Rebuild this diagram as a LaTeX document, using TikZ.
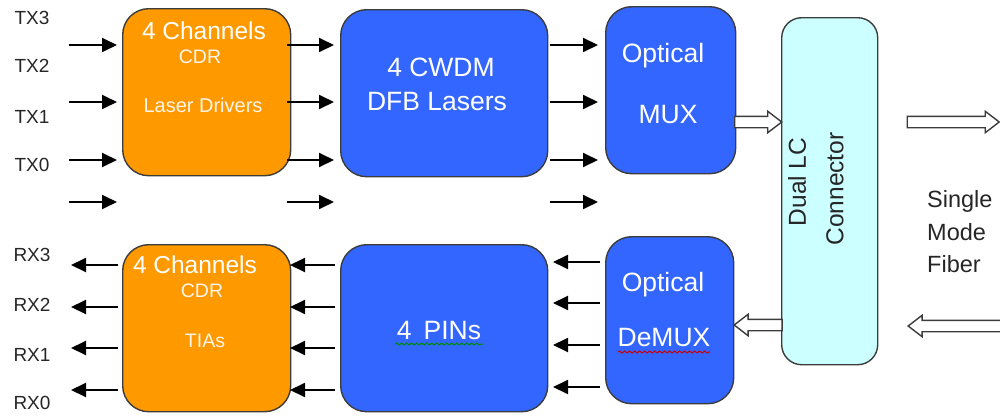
\documentclass[tikz,border=0pt]{standalone}
\usepackage{fontspec}
\setmainfont{Liberation Sans}
\usetikzlibrary{arrows.meta,shapes.arrows,decorations.pathmorphing}
\definecolor{orangebox}{HTML}{FF9900}
\definecolor{bluebox}{HTML}{3366FF}
\definecolor{cyanbox}{HTML}{CCFFFF}
\definecolor{edgegrey}{HTML}{3C3C3C}
\definecolor{labelink}{HTML}{262626}
\tikzset{
  x=1pt,y=-1pt,
  blockbox/.style={draw=edgegrey,line width=1.4pt,rounded corners=26pt,anchor=north west,inner sep=0pt},
  orangeblock/.style={blockbox,fill=orangebox,minimum width=168pt,minimum height=167pt},
  blueblock/.style={blockbox,fill=bluebox},
  signal/.style={-{Triangle[length=15pt,width=14pt]},line width=1.9pt,black},
  pinlabel/.style={font=\fontsize{19}{22}\selectfont,text=labelink,inner sep=0pt},
  whitebig/.style={font=\fontsize{26.5}{30}\selectfont,text=white,inner sep=0pt},
  whitesmall/.style={font=\fontsize{19.5}{22}\selectfont,text=white!92!orange,inner sep=0pt},
  blacklabel/.style={font=\fontsize{24.5}{28}\selectfont,text=labelink,inner sep=0pt},
  hollow/.style={single arrow,draw=edgegrey,fill=white,line width=1.4pt,inner sep=0pt,inner ysep=5pt,
    single arrow head extend=5pt,minimum height=#1,minimum width=21pt,single arrow tip angle=75},
  squiggle/.style={decorate,decoration={snake,amplitude=1pt,segment length=5pt},line width=1pt}
}
\begin{document}
\begin{tikzpicture}
\useasboundingbox (0,0) rectangle (1000,415);
% blocks
\node[orangeblock] (txcdr) at (122,8) {};
\node[orangeblock] (rxcdr) at (122,244) {};
\node[blueblock,minimum width=207pt,minimum height=167pt] (lasers) at (340,9) {};
\node[blueblock,minimum width=207pt,minimum height=167pt] (pins) at (340,244) {};
\node[blueblock,minimum width=130pt,minimum height=167pt] (mux) at (605,6) {};
\node[blueblock,minimum width=128pt,minimum height=167pt] (demux) at (605,236) {};
\node[blockbox,fill=cyanbox,rounded corners=20pt,minimum width=96pt,minimum height=347pt] (conn) at (781,17) {};
% block texts
\node[whitebig,font=\fontsize{24.5}{28}\selectfont] (t1) at (204,31) {4 Channels};
\node[whitesmall] (t2) at (200,57) {CDR};
\node[whitesmall,font=\fontsize{20}{23}\selectfont] (t3) at (203,105) {Laser Drivers};
\node[whitebig,font=\fontsize{24.5}{28}\selectfont] (t4) at (195,265) {4 Channels};
\node[whitesmall] (t5) at (202,291) {CDR};
\node[whitesmall] (t6) at (205,341) {TIAs};
\node[whitebig] (t7) at (441,67) {4 CWDM};
\node[whitebig] (t8) at (437,102) {DFB Lasers};
\node[whitebig] (t9) at (663,56) {Optical};
\node[whitebig] (t10) at (668,115) {MUX};
\node[whitebig] (t11) at (439,331) {4\hspace{12pt}PINs};
\node[whitebig] (t12) at (663,285) {Optical};
\node[whitebig] (t13) at (664,338) {DeMUX};
\draw[squiggle,draw=green!55!black] (395,344) -- (483,344);
\draw[squiggle,draw=red!80!black] (618,352) -- (710,352);
% connector text
\node[blacklabel,rotate=90] (dual) at (797,182) {Dual LC};
\node[blacklabel,rotate=90] (connector) at (835,189) {Connector};
% fibre text
\node[blacklabel,anchor=west,font=\fontsize{23.5}{27}\selectfont] (single) at (927,201) {Single};
\node[blacklabel,anchor=west,font=\fontsize{23.5}{27}\selectfont] (modet) at (927,232) {Mode};
\node[blacklabel,anchor=west,font=\fontsize{23.5}{27}\selectfont] (fiber) at (927,264) {Fiber};
% pin labels
\foreach \n/\lab/\py in {a/TX3/18,b/TX2/66,c/TX1/117,d/TX0/165,e/RX3/255,f/RX2/305,g/RX1/355,h/RX0/403}
  \node[pinlabel] (pin\n) at (32,\py) {\lab};
% transmit signals
\foreach \i/\py in {1/45,2/102,3/160,4/202}{
  \coordinate (ta\i) at (69,\py);  \coordinate (tb\i) at (117,\py);
  \coordinate (tc\i) at (287,\py); \coordinate (td\i) at (334,\py);
  \coordinate (te\i) at (550,\py); \coordinate (tf\i) at (598,\py);
  \draw[signal] (ta\i) -- (tb\i);
  \draw[signal] (tc\i) -- (td\i);
  \draw[signal] (te\i) -- (tf\i);
}
% receive signals
\foreach \i/\py/\qy in {1/265/262,2/307/303,3/348/345,4/390/387}{
  \coordinate (ra\i) at (118,\py); \coordinate (rb\i) at (71,\py);
  \coordinate (rc\i) at (335,\py); \coordinate (rd\i) at (290,\py);
  \coordinate (re\i) at (600,\qy); \coordinate (rf\i) at (553,\qy);
  \draw[signal] (ra\i) -- (rb\i);
  \draw[signal] (rc\i) -- (rd\i);
  \draw[signal] (re\i) -- (rf\i);
}
% hollow arrows
\node[hollow=47pt,anchor=west] (h1) at (734,122) {};
\node[hollow=92pt,anchor=west] (h2) at (906.5,122) {};
\node[hollow=48pt,anchor=west,shape border rotate=180] (h3) at (733,325) {};
\node[hollow=94pt,anchor=west,shape border rotate=180] (h4) at (907,326) {};
\end{tikzpicture}
\end{document}
